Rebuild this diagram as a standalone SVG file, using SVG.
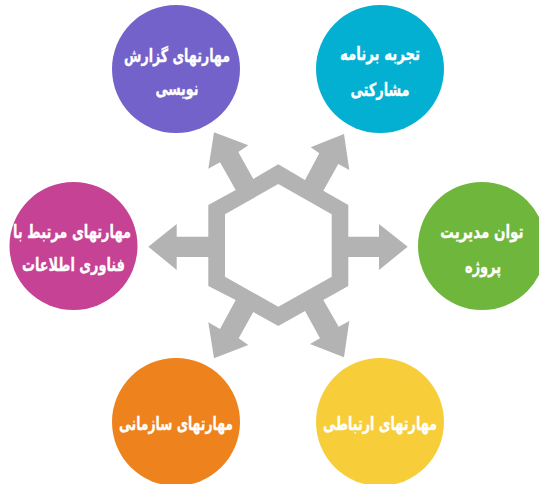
<svg xmlns="http://www.w3.org/2000/svg" width="539" height="484" viewBox="0 0 539 484">
<style>
text{font-family:"DejaVu Sans",sans-serif;font-weight:700;font-size:18px;fill:#fff;stroke:#fff;stroke-width:.3;text-anchor:middle;direction:rtl}
</style>
<rect width="539" height="484" fill="#fff"/>
<g id="connectors">
<path fill="#b3b3b3" fill-rule="evenodd" d="M278.300 164.300L305 180L319.300 153.300L310.700 147.300L344 134L349.300 170L338.300 164L323.300 190.700L348.300 205V236.700H379V224L407.700 246.700L379 270V257H348.300V286L323.300 300L338.700 326.700L349.300 321L344 357.300L310 344L320 338.300L305 311L278.300 326L253.300 312L238.700 338.300L248.300 345L214 358.300L208.300 322.300L220 329L235.700 300L208.300 286V257H176.700V270L148.300 246.700L176.700 224V236.700H208.300V205L235.700 190L220 162.300L208.300 168.700L214 132.300L248.300 145.300L238.300 152L253.300 179ZM278.300 184L225 214.300V276.700L278.300 306.700L331.700 276.700V214.300Z"/>
</g>
<g id="node-report"><circle cx="176" cy="69" r="64" fill="#7362c9"/><text x="177" y="62" textLength="106" lengthAdjust="spacingAndGlyphs">مهارتهای گزارش</text><text x="177" y="95" textLength="43" lengthAdjust="spacingAndGlyphs">نویسی</text></g>
<g id="node-experience"><circle cx="380" cy="69" r="64" fill="#03b0d2"/><text x="380" y="60" textLength="80" lengthAdjust="spacingAndGlyphs">تجربه برنامه</text><text x="380" y="96" textLength="59" lengthAdjust="spacingAndGlyphs">مشارکتی</text></g>
<g id="node-pm"><circle cx="482" cy="246" r="64" fill="#6fb63d"/><text transform="translate(482 238) scale(.75 1)">توان مدیریت</text><text x="483" y="273" textLength="36" lengthAdjust="spacingAndGlyphs">پروژه</text></g>
<g id="node-it"><circle cx="73.500" cy="246" r="64" fill="#c64294"/><text x="72" y="238" textLength="118" lengthAdjust="spacingAndGlyphs">مهارتهای مرتبط با</text><text x="73.500" y="271" textLength="103" lengthAdjust="spacingAndGlyphs">فناوری اطلاعات</text></g>
<g id="node-org"><circle cx="176" cy="422" r="64" fill="#ee821c"/><text x="176" y="430" textLength="114" lengthAdjust="spacingAndGlyphs">مهارتهای سازمانی</text></g>
<g id="node-comm"><circle cx="380" cy="422" r="64" fill="#f7ce3a"/><text x="380" y="430" textLength="114" lengthAdjust="spacingAndGlyphs">مهارتهای ارتباطی</text></g>
</svg>
